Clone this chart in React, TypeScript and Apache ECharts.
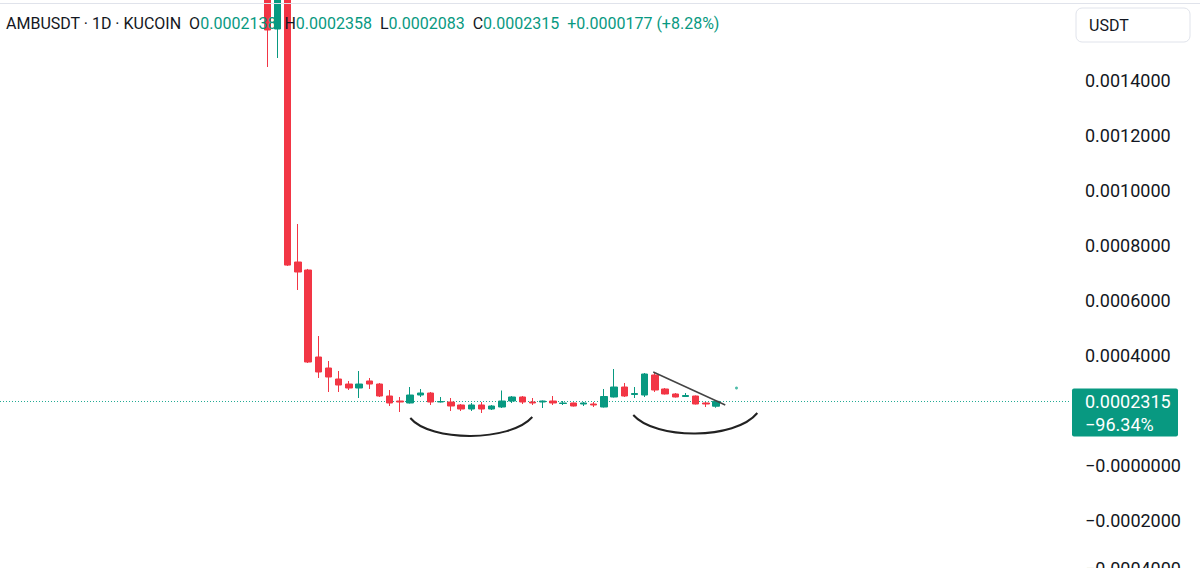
import React, { useEffect, useRef } from "react";
import * as echarts from "echarts";

// ---- data ----
const leadingDays = 26;
const totalDays = 105;
const dayLabels: string[] = Array.from({ length: totalDays }, (_, i) => `Day ${i + 1}`);

const opens = [0.00185, 0.0015855, 0.0019, 0.0007382, 0.0007091, 0.0003927, 0.0003527, 0.0003127, 0.0002945, 0.00028,
  0.0003055, 0.0002945, 0.0002509, 0.0002327, 0.0002255, 0.0002545, 0.0002618, 0.0002291, 0.0002291, 0.0002182,
  0.0002036, 0.0002182, 0.0002036, 0.0002109, 0.0002327, 0.0002473, 0.0002291, 0.0002291, 0.0002327, 0.0002236,
  0.0002255, 0.0002218, 0.0002218, 0.0002109, 0.0002473, 0.0002836, 0.0002564, 0.0002545, 0.0003273, 0.0002764,
  0.0002582, 0.0002491, 0.0002509, 0.0002255, 0.0002138];
const closes = [0.0015818, 0.0019, 0.000727, 0.0007018, 0.0003745, 0.0003382, 0.00032, 0.0002909, 0.00028, 0.0002945,
  0.0002945, 0.0002509, 0.0002255, 0.0002291, 0.0002545, 0.0002618, 0.0002291, 0.0002309, 0.0002145, 0.0002036,
  0.0002182, 0.0002036, 0.0002145, 0.0002327, 0.0002473, 0.0002291, 0.0002255, 0.0002327, 0.0002255, 0.0002255,
  0.0002145, 0.0002255, 0.0002182, 0.0002491, 0.0002836, 0.0002509, 0.00026, 0.0003309, 0.0002727, 0.0002582,
  0.0002473, 0.0002527, 0.0002218, 0.0002218, 0.0002315];
const lows = [0.0014473, 0.00148, 0.0007236, 0.0006364, 0.0003709, 0.0003164, 0.0002655, 0.0002655, 0.0002727, 0.0002436,
  0.0002764, 0.0002473, 0.0002145, 0.0001927, 0.0002236, 0.0002473, 0.0002182, 0.0002273, 0.0001964, 0.0001964,
  0.0001964, 0.0001891, 0.0002, 0.0002073, 0.0002255, 0.0002218, 0.0002182, 0.0002073, 0.0002182, 0.0002182,
  0.0002127, 0.0002145, 0.0002109, 0.0002091, 0.0002455, 0.0002473, 0.0002436, 0.0002473, 0.0002655, 0.0002564,
  0.0002455, 0.0002473, 0.00022, 0.0002109, 0.0002083];
const highs = [0.0019, 0.00195, 0.00196, 0.0008764, 0.000713, 0.0004691, 0.0003782, 0.0003418, 0.0003055, 0.0003418,
  0.0003164, 0.0002982, 0.0002727, 0.0002473, 0.0002836, 0.0002764, 0.0002655, 0.0002473, 0.0002436, 0.0002218,
  0.0002255, 0.0002291, 0.0002182, 0.0002709, 0.0002509, 0.0002509, 0.0002436, 0.0002345, 0.0002509, 0.0002327,
  0.0002273, 0.0002291, 0.0002291, 0.0002764, 0.0003491, 0.0002982, 0.0002836, 0.0003345, 0.0003382, 0.00028,
  0.0002618, 0.0002618, 0.0002527, 0.0002291, 0.0002358];

const markerOffset = 46;
const markerValue = 0.00028;
const lastPrice = 0.0002315;
const lastPriceText = "0.0002315";
const changePctText = "\u221296.34%";

const header = {
  symbol: "AMBUSDT \u00b7 1D \u00b7 KUCOIN",
  o: "0.0002138",
  h: "0.0002358",
  l: "0.0002083",
  c: "0.0002315",
  change: "+0.0000177 (+8.28%)",
};

const yMin = -0.0004;
const yMax = 0.0016764;
const yInterval = 0.0002;
const hiddenTicks = [0.0002, 0.0016]; // covered by price tag / currency box

// annotation drawings in data space: [candle offset from first candle, price]
const trendLine = [[37.84, 0.0003382], [44.9, 0.0002182]];
const arcs = [
  [[14.02, 0.0001709], [15.98, 0.0000836], [23.82, 0.0000836], [25.98, 0.0001745]],
  [[35.88, 0.0001818], [38.04, 0.0000909], [45.88, 0.0000909], [48.04, 0.0001891]],
];

const UP = "#089981";
const DOWN = "#F23645";
const FONT = "Roboto, sans-serif";

export default function App() {
  const ref = useRef<HTMLDivElement>(null);
  useEffect(() => {
    if (!ref.current) return;
    const chart = echarts.init(ref.current, undefined, { renderer: "svg" });
    const full: any[] = dayLabels.map(() => "-");
    opens.forEach((o, i) => (full[leadingDays + i] = [o, closes[i], lows[i], highs[i]]));
    const markerData: any[] = dayLabels.map(() => "-");
    markerData[leadingDays + markerOffset] = markerValue;

    chart.setOption({
      animation: false,
      grid: {
        left: -3,
        right: 132,
        top: 4,
        bottom: -7,
        containLabel: false,
        outerBoundsMode: "none",
      },
      xAxis: {
        type: "category",
        data: dayLabels,
        axisLine: { show: false },
        axisTick: { show: false },
        axisLabel: { show: false },
        splitLine: { show: false },
      },
      yAxis: {
        type: "value",
        position: "right",
        min: yMin,
        max: yMax,
        interval: yInterval,
        axisLine: { show: false },
        axisTick: { show: false },
        splitLine: { show: false },
        axisLabel: {
          showMaxLabel: false,
          margin: 17,
          align: "left",
          color: "#131722",
          fontSize: 18,
          fontFamily: FONT,
          rich: { edge: { fontSize: 18, fontFamily: FONT, color: "#131722", padding: [0, 0, 14, 0] } },
          formatter: (v: number) => {
            if (hiddenTicks.some((h) => Math.abs(v - h) < 1e-9) || v > yMax - 1e-9) return "";
            if (Math.abs(v) < 1e-12) return "\u22120.0000000";
            const s = Math.abs(v).toFixed(7);
            if (Math.abs(v - yMin) < 1e-9) return `{edge|\u2212${s}}`;
            return v < 0 ? "\u2212" + s : s;
          },
        },
      },
      series: [
        {
          type: "candlestick",
          data: full,
          barWidth: 7,
          itemStyle: { color: UP, color0: DOWN, borderColor: UP, borderColor0: DOWN, borderWidth: 1 },
        },
        {
          type: "scatter",
          data: markerData,
          symbol: "circle",
          symbolSize: 3,
          itemStyle: { color: "#22ab94" },
        },
      ],
    });

    const p0 = chart.convertToPixel({ gridIndex: 0 }, [leadingDays, 0]) as number[];
    const p1 = chart.convertToPixel({ gridIndex: 0 }, [leadingDays + 1, 0]) as number[];
    const step = p1[0] - p0[0];
    const toPx = (pt: number[]) => {
      const py = chart.convertToPixel({ yAxisIndex: 0 }, pt[1]) as number;
      return [p0[0] + pt[0] * step, py];
    };
    const priceY = Math.round(chart.convertToPixel({ yAxisIndex: 0 }, lastPrice) as number) + 0.5;
    const t0 = toPx(trendLine[0]);
    const t1 = toPx(trendLine[1]);

    const arcGraphics = arcs.map((a) => {
      const [a0, a1, a2, a3] = a.map(toPx);
      return {
        type: "bezierCurve",
        shape: { x1: a0[0], y1: a0[1], cpx1: a1[0], cpy1: a1[1], cpx2: a2[0], cpy2: a2[1], x2: a3[0], y2: a3[1] },
        style: { stroke: "#222", lineWidth: 2, fill: null },
        z: 50,
      };
    });

    chart.setOption({
      graphic: [
        { type: "line", shape: { x1: 0, y1: 3.5, x2: 1200, y2: 3.5 }, style: { stroke: "#e0e3eb", lineWidth: 1 }, z: 40 },
        {
          type: "line",
          shape: { x1: 0, y1: priceY, x2: 1070, y2: priceY },
          style: { stroke: "#22ab94", lineWidth: 1, lineDash: [1, 2] },
          z: 1,
        },
        ...arcGraphics,
        {
          type: "line",
          shape: { x1: t0[0], y1: t0[1], x2: t1[0], y2: t1[1] },
          style: { stroke: "#444", lineWidth: 1.5 },
          z: 50,
        },
        {
          type: "text",
          x: 6,
          y: 23,
          z: 60,
          style: {
            text:
              `${header.symbol}  O{g|${header.o}}  H{g|${header.h}}  L{g|${header.l}}  C{g|${header.c}}  {g|${header.change}}`,
            fill: "#131722",
            font: `16px ${FONT}`,
            verticalAlign: "middle",
            rich: { g: { fill: UP, font: `16px ${FONT}` } },
          },
        },
        {
          type: "rect",
          shape: { x: 1076, y: 8, width: 114, height: 34, r: 6 },
          style: { fill: "#fff", stroke: "#e0e3eb", lineWidth: 1 },
          z: 60,
        },
        {
          type: "text",
          x: 1089,
          y: 25,
          z: 61,
          style: { text: "USDT", fill: "#131722", font: `16px ${FONT}`, verticalAlign: "middle" },
        },
        {
          type: "rect",
          shape: { x: 1072, y: priceY - 13, width: 106, height: 48, r: 2 },
          style: { fill: UP },
          z: 60,
        },
        {
          type: "text",
          x: 1085,
          y: priceY,
          z: 61,
          style: { text: lastPriceText, fill: "#fff", font: `18px ${FONT}`, verticalAlign: "middle" },
        },
        {
          type: "text",
          x: 1085,
          y: priceY + 23,
          z: 61,
          style: { text: changePctText, fill: "#fff", font: `18px ${FONT}`, verticalAlign: "middle" },
        },
      ],
    });

    return () => chart.dispose();
  }, []);
  return (
    <div
      ref={ref}
      style={{ position: "fixed", left: 0, top: 0, width: 1200, height: 568, background: "#fff" }}
    />
  );
}
